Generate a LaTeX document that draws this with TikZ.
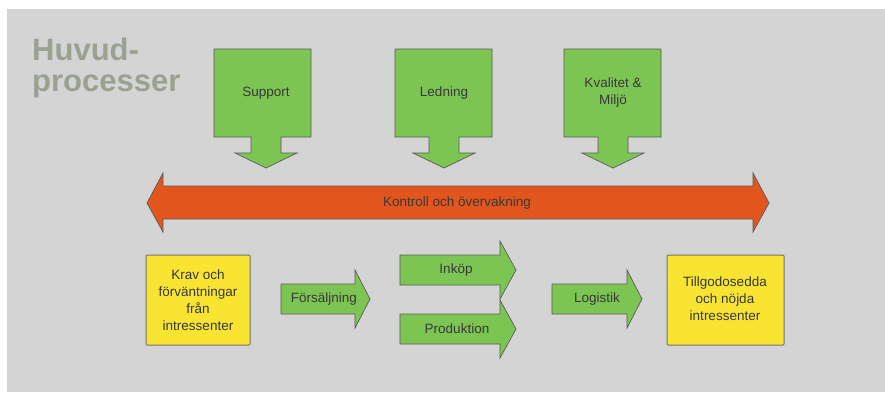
\documentclass[tikz,border=0pt]{standalone}
\usepackage{fontspec}
\setmainfont{Liberation Sans}
\usepackage{xcolor}
\definecolor{pagebg}{HTML}{D4D4D4}
\definecolor{procgreen}{HTML}{7DC553}
\definecolor{ctrlorange}{HTML}{E2561E}
\definecolor{stakeyellow}{HTML}{F8E431}
\definecolor{edgegray}{HTML}{5A5A5A}
\definecolor{labelink}{HTML}{383838}
\definecolor{titlegray}{HTML}{9BA191}

% green box with a down arrow under it: #1 = left edge, #2 = stem centre
\newcommand{\greencallout}[2]{%
  \draw[greenblk] (#1,49) -- (#1+97,49) -- (#1+97,137) -- (#2+15,137) -- (#2+15,153)
    -- (#2+31,153) -- (#2,168) -- (#2-31,153) -- (#2-15,153) -- (#2-15,137)
    -- (#1,137) -- cycle;}
% block arrow to the right: #1 = back, #2 = head start, #3 = tip, #4 = middle y
\newcommand{\rightblock}[4]{%
  \draw[greenblk] (#1,#4-15) -- (#2,#4-15) -- (#2,#4-29) -- (#3,#4)
    -- (#2,#4+29) -- (#2,#4+15) -- (#1,#4+15) -- cycle;}

\begin{document}
\begin{tikzpicture}[x=1pt, y=-1pt,
  greenblk/.style={draw=edgegray, fill=procgreen, line width=0.7pt},
  orangeblk/.style={draw=edgegray, fill=ctrlorange, line width=0.7pt},
  yellowbox/.style={draw=edgegray!85, fill=stakeyellow, line width=1pt, rounded corners=1pt},
  lbl/.style={font=\fontsize{13.5}{17}\selectfont, text=labelink, align=center, inner sep=0pt},
  heading/.style={font=\bfseries\fontsize{31}{31}\selectfont, text=titlegray, anchor=base west, inner sep=0pt}
]
  % page and grey panel
  \fill[white] (0,0) rectangle (885,392);
  \fill[pagebg] (7,9) rectangle (885,392);
  \useasboundingbox (0,0) rectangle (885,392);

  \node[heading] (titletop) at (32,60) {Huvud-};
  \node[heading] (titlebot) at (32,91) {processer};

  % support processes
  \greencallout{214}{266}
  \greencallout{395}{444}
  \greencallout{564}{613}
  \node[lbl] (support) at (266,93) {Support};
  \node[lbl] (ledning) at (444,93) {Ledning};
  \node[lbl] (kvalitet) at (613,93) {Kvalitet \&\\Miljö};

  % control bar
  \draw[orangeblk] (147,203) -- (163,173) -- (163,186) -- (753,186) -- (753,173)
    -- (769,203) -- (753,232) -- (753,219) -- (163,219) -- (163,232) -- cycle;
  \node[lbl] (kontroll) at (457,203) {Kontroll och övervakning};

  % main flow
  \draw[yellowbox] (146,255) rectangle (250,345);
  \node[lbl] (krav) at (198,300) {Krav och\\förväntningar\\från\\intressenter};

  \rightblock{281}{355}{370}{299}
  \node[lbl] (forsaljning) at (324,299) {Försäljning};

  \rightblock{400}{500}{516}{270}
  \node[lbl] (inkop) at (456,270) {Inköp};
  \rightblock{400}{500}{516}{329}
  \node[lbl] (produktion) at (457,329) {Produktion};

  \rightblock{552}{627}{642}{299}
  \node[lbl] (logistik) at (597,299) {Logistik};

  \draw[yellowbox] (667,255) rectangle (784,345);
  \node[lbl] (nojda) at (725,299) {Tillgodosedda\\och nöjda\\intressenter};
\end{tikzpicture}
\end{document}
